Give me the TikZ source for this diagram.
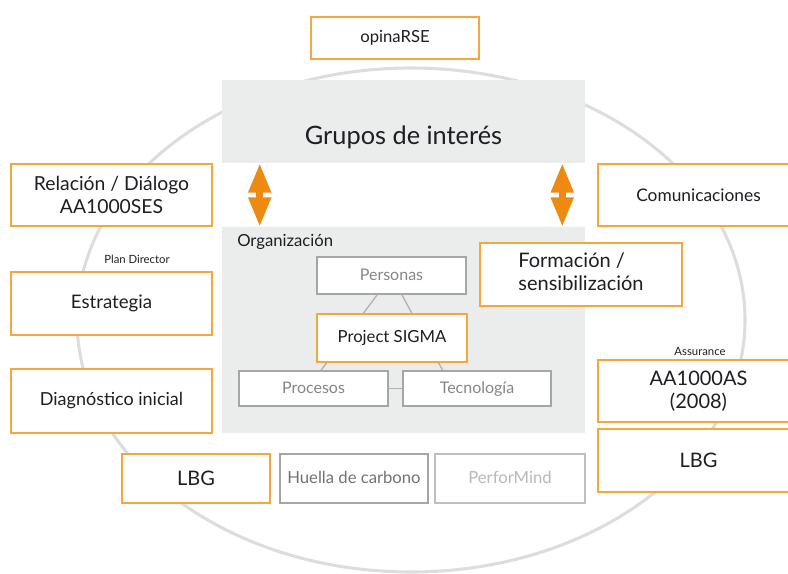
\documentclass[tikz,border=0pt]{standalone}
\usepackage{fontspec}
\setmainfont{Lato}
\usetikzlibrary{arrows.meta,calc}

\definecolor{naranja}{RGB}{247,166,60}
\definecolor{flecha}{RGB}{238,138,18}
\definecolor{fondo}{RGB}{235,236,236}
\definecolor{circulo}{RGB}{221,221,221}
\definecolor{texto}{RGB}{30,30,35}

\pgfdeclarelayer{atras}
\pgfdeclarelayer{lineas}
\pgfsetlayers{atras,lineas,main}

\tikzset{every picture/.style={line width=0.75pt}}
\tikzset{
  caja/.style={draw=naranja, line width=1.1pt, fill=white, inner sep=0pt, align=center, text=texto},
  cajagris/.style={draw=gray!70, line width=1pt, fill=white, inner sep=0pt, align=center, text=gray!95, text height=10pt, text depth=2pt},
  bloque/.style={fill=fondo, inner sep=0pt},
  union/.style={draw=gray!60, line width=1pt},
  doble/.style={draw=flecha, line width=5pt, {Triangle[length=22pt,width=16pt]}-{Triangle[length=22pt,width=16pt]}},
  rotulo/.style={inner sep=0.75pt, text=texto, font=\fontsize{8.5}{10}\selectfont}
}

\begin{document}
\begin{tikzpicture}[x=0.75pt,y=0.75pt,yscale=-1,xscale=1]
	\useasboundingbox (0,0) rectangle (788,574);

	\begin{pgfonlayer}{atras}
	%Shape: Ellipse [id:circulo]
	\draw [color=circulo, line width=2.3pt] (411,320) ellipse [x radius=334, y radius=252];
	%Shape: Rectangle [id:grupos]
	\node (grupos) at (403.5,121.5) [bloque, minimum width=272.25pt, minimum height=62.25pt] {};
	%Shape: Rectangle [id:organizacion]
	\node (org) at (403.5,330) [bloque, minimum width=272.25pt, minimum height=154.5pt] {};
	\end{pgfonlayer}

	\node (gruposlbl) at (403.5,137) [text=texto, font=\fontsize{19}{22}\selectfont] {Grupos de interés};
	\node (orglbl) at (237,242) [anchor=west, inner sep=0pt, text=texto, font=\fontsize{12.5}{14}\selectfont] {Organización};

	%Double arrows
	\draw [doble] ($(grupos.south west)+(38,0)$) -- ($(org.north west)+(38,0)$);
	\draw [doble] ($(grupos.south east)+(-23,0)$) -- ($(org.north east)+(-23,0)$);

	% Organizacion boxes
	\node (personas) at (391.5,275.5) [cajagris, minimum width=111.75pt, minimum height=27.75pt, font=\fontsize{12}{14}\selectfont] {Personas};
	\node (sigma) at (392,338) [caja, minimum width=112.5pt, minimum height=36pt, font=\fontsize{12.5}{14}\selectfont] {Project SIGMA};
	\node (procesos) at (313.5,388.5) [cajagris, minimum width=111.75pt, minimum height=26.25pt, font=\fontsize{12}{14}\selectfont] {Procesos};
	\node (tecnologia) at (477,388.5) [cajagris, minimum width=111pt, minimum height=26.25pt, font=\fontsize{12}{14}\selectfont] {Tecnología};

	%Straight Lines [id:triangulo]
	\begin{pgfonlayer}{lineas}
	\draw [union] (personas.center) -- ($(procesos.north)!0.1!(procesos.north east)$);
	\draw [union] (personas.center) -- ($(tecnologia.north)!0.46!(tecnologia.north west)$);
	\draw [union] (procesos.east) -- (tecnologia.west);
	\end{pgfonlayer}

	% Orange boxes
	\node (opina) at (395,38) [caja, minimum width=126pt, minimum height=31.5pt, font=\fontsize{12.5}{14}\selectfont] {opinaRSE};
	\node (relacion) at (111.5,195) [caja, minimum width=150.75pt, minimum height=46.5pt, font=\fontsize{14.5}{17}\selectfont] {Relación / Diálogo\\AA1000SES};
	\node (estrategia) at (111.5,303.5) [caja, minimum width=150.75pt, minimum height=47.25pt, font=\fontsize{14}{14}\selectfont] {Estrategia};
	\node (diagnostico) at (111.5,401) [caja, minimum width=150.75pt, minimum height=48pt, font=\fontsize{13.5}{14}\selectfont] {Diagnóstico inicial};
	\node (comunicaciones) at (698.5,195) [caja, minimum width=150.75pt, minimum height=46.5pt, font=\fontsize{13}{14}\selectfont] {Comunicaciones};
	\node (formacion) at (581,274.5) [caja, minimum width=151.5pt, minimum height=47.25pt, font=\fontsize{15}{17.5}\selectfont] {\begin{tabular}{@{}l@{}}Formación /\\sensibilización\end{tabular}};
	\node (aa1000as) at (698.5,391) [caja, minimum width=150.75pt, minimum height=46.5pt, font=\fontsize{15}{17}\selectfont] {AA1000AS\\(2008)};
	\node (lbgder) at (698.5,460.5) [caja, minimum width=150.75pt, minimum height=47.25pt, font=\fontsize{15}{16}\selectfont] {LBG};
	\node (lbg) at (196,478.5) [caja, minimum width=111pt, minimum height=36.75pt, font=\fontsize{15}{16}\selectfont] {LBG};
	\node (huella) at (354,478.5) [cajagris, minimum width=111pt, minimum height=36.75pt, text=gray!110, font=\fontsize{12.5}{14}\selectfont] {Huella de carbono};
	\node (performind) at (510,478.5) [cajagris, draw=gray!50, minimum width=112.5pt, minimum height=36.75pt, text=gray!55, font=\fontsize{12.5}{14}\selectfont] {PerforMind};

	% Text Node
	\node (plan) at (137,259) [rotulo] {Plan Director};
	\node (assurance) at (700,351) [rotulo] {Assurance};

\end{tikzpicture}
\end{document}
